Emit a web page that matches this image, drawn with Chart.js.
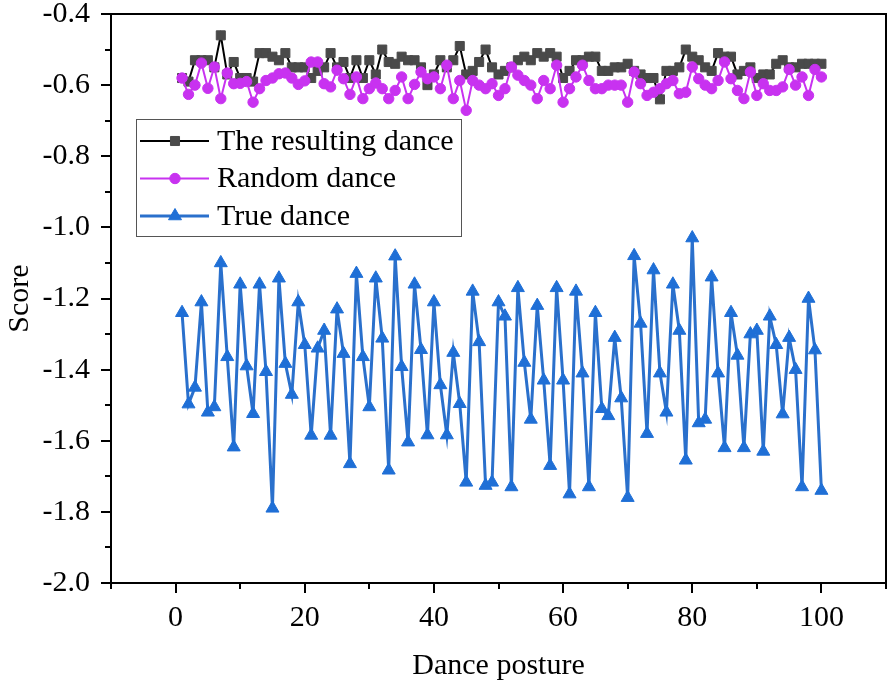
<!DOCTYPE html>
<html>
<head>
<meta charset="utf-8">
<title>Score by dance posture</title>
<script src="https://cdn.jsdelivr.net/npm/chart.js@4.4.1/dist/chart.umd.min.js"></script>
<style>
    html, body { margin: 0; padding: 0; background: #fff; }
    #wrap { width: 888px; height: 691px; position: relative; }
</style>
</head>
<body>
<div id="wrap"><canvas id="scoreChart" width="888" height="691"></canvas></div>
<script>
    // Dance posture index (x axis)
    const posture = [
        1, 2, 3, 4, 5, 6, 7, 8, 9, 10, 11, 12, 13, 14, 15, 16, 17, 18, 19, 20,
        21, 22, 23, 24, 25, 26, 27, 28, 29, 30, 31, 32, 33, 34, 35, 36, 37, 38, 39, 40,
        41, 42, 43, 44, 45, 46, 47, 48, 49, 50, 51, 52, 53, 54, 55, 56, 57, 58, 59, 60,
        61, 62, 63, 64, 65, 66, 67, 68, 69, 70, 71, 72, 73, 74, 75, 76, 77, 78, 79, 80,
        81, 82, 83, 84, 85, 86, 87, 88, 89, 90, 91, 92, 93, 94, 95, 96, 97, 98, 99, 100
    ];

    const resultingDance = [
        -0.58, -0.59, -0.53, -0.53, -0.53, -0.55, -0.46, -0.57, -0.535, -0.58,
        -0.58, -0.59, -0.51, -0.51, -0.52, -0.53, -0.51, -0.55, -0.55, -0.55,
        -0.58, -0.56, -0.55, -0.51, -0.55, -0.535, -0.58, -0.53, -0.58, -0.53,
        -0.57, -0.50, -0.535, -0.54, -0.52, -0.53, -0.53, -0.55, -0.60, -0.57,
        -0.53, -0.55, -0.53, -0.49, -0.57, -0.56, -0.535, -0.50, -0.55, -0.57,
        -0.56, -0.55, -0.53, -0.52, -0.53, -0.51, -0.52, -0.51, -0.52, -0.58,
        -0.56, -0.53, -0.53, -0.52, -0.52, -0.56, -0.56, -0.55, -0.55, -0.54,
        -0.56, -0.57, -0.58, -0.58, -0.64, -0.56, -0.56, -0.55, -0.50, -0.52,
        -0.53, -0.55, -0.56, -0.51, -0.52, -0.52, -0.57, -0.56, -0.55, -0.58,
        -0.57, -0.57, -0.54, -0.53, -0.55, -0.55, -0.54, -0.54, -0.54, -0.54
    ];

    const randomDance = [
        -0.58, -0.626, -0.60, -0.538, -0.609, -0.549, -0.638, -0.566, -0.596, -0.595,
        -0.59, -0.648, -0.61, -0.587, -0.58, -0.568, -0.566, -0.58, -0.598, -0.588,
        -0.535, -0.535, -0.596, -0.605, -0.558, -0.582, -0.626, -0.577, -0.638, -0.61,
        -0.594, -0.61, -0.638, -0.615, -0.577, -0.638, -0.598, -0.563, -0.582, -0.577,
        -0.61, -0.544, -0.638, -0.587, -0.671, -0.587, -0.60, -0.61, -0.596, -0.629,
        -0.61, -0.549, -0.572, -0.587, -0.60, -0.638, -0.587, -0.61, -0.544, -0.648,
        -0.61, -0.577, -0.544, -0.587, -0.61, -0.61, -0.60, -0.60, -0.60, -0.648,
        -0.563, -0.596, -0.629, -0.62, -0.61, -0.596, -0.587, -0.624, -0.62, -0.549,
        -0.582, -0.60, -0.61, -0.587, -0.535, -0.582, -0.615, -0.638, -0.563, -0.629,
        -0.596, -0.615, -0.615, -0.605, -0.556, -0.60, -0.577, -0.629, -0.556, -0.577
    ];

    const trueDance = [
        -1.24, -1.497, -1.45, -1.21, -1.52, -1.505, -1.10, -1.364, -1.618, -1.16,
        -1.39, -1.524, -1.16, -1.406, -1.79, -1.143, -1.383, -1.47, -1.21, -1.33,
        -1.585, -1.34, -1.29, -1.585, -1.23, -1.355, -1.665, -1.13, -1.364, -1.505,
        -1.143, -1.312, -1.683, -1.081, -1.392, -1.604, -1.16, -1.344, -1.584, -1.21,
        -1.443, -1.584, -1.352, -1.496, -1.717, -1.18, -1.322, -1.726, -1.717, -1.21,
        -1.25, -1.73, -1.17, -1.38, -1.54, -1.22, -1.43, -1.67, -1.17, -1.43,
        -1.75, -1.18, -1.41, -1.73, -1.24, -1.51, -1.53, -1.31, -1.48, -1.76,
        -1.08, -1.27, -1.58, -1.12, -1.41, -1.52, -1.16, -1.29, -1.655, -1.03,
        -1.55, -1.54, -1.14, -1.41, -1.62, -1.24, -1.36, -1.62, -1.30, -1.29,
        -1.63, -1.25, -1.33, -1.525, -1.31, -1.40, -1.73, -1.20, -1.345, -1.74
    ];

    const seriesNames = ['The resulting dance', 'Random dance', 'True dance'];
    const xTickLabels = [0, 20, 40, 60, 80, 100];

    const FONT = "'Liberation Serif', 'Times New Roman', serif";
    const FONT_SIZE = 30;

    // frame, tick marks (major + minor) and the boxed legend
    const framePlugin = {
        id: 'frame',
        afterDraw(chart) {
            const { ctx, chartArea: a, scales: { x, y } } = chart;
            ctx.save();
            ctx.strokeStyle = '#000';
            ctx.lineWidth = 2;
            ctx.strokeRect(a.left, a.top, a.right - a.left, a.bottom - a.top);

            ctx.beginPath();
            for (let v = -10; v <= 110; v += 10) {
                const px = Math.round(x.getPixelForValue(v));
                const len = v % 20 === 0 ? 10 : 6;
                ctx.moveTo(px, a.bottom);
                ctx.lineTo(px, a.bottom + len);
            }
            for (let k = -20; k <= -4; k++) {
                const py = Math.round(y.getPixelForValue(k / 10));
                const len = k % 2 === 0 ? 10 : 6;
                ctx.moveTo(a.left, py);
                ctx.lineTo(a.left - len, py);
            }
            ctx.stroke();

            // legend box
            const lx = 136, ly = 119, lw = 325, lh = 117;
            ctx.lineWidth = 1;
            ctx.strokeStyle = '#555';
            ctx.fillStyle = '#fff';
            ctx.fillRect(lx, ly, lw, lh);
            ctx.strokeRect(lx + 0.5, ly + 0.5, lw, lh);

            ctx.font = FONT_SIZE + 'px ' + FONT;
            ctx.textBaseline = 'middle';
            ctx.textAlign = 'left';
            chart.data.datasets.forEach((ds, i) => {
                const cy = 141 + i * 37.5;
                ctx.strokeStyle = ds.borderColor;
                ctx.lineWidth = ds.borderWidth;
                ctx.beginPath();
                ctx.moveTo(140, cy);
                ctx.lineTo(209, cy);
                ctx.stroke();
                ctx.fillStyle = ds.pointBackgroundColor;
                ctx.strokeStyle = ds.pointBorderColor;
                ctx.lineWidth = 1;
                Chart.helpers.drawPoint(ctx, {
                    pointStyle: ds.pointStyle,
                    radius: ds.pointRadius,
                    borderWidth: 1,
                    rotation: 0
                }, 175, cy);
                ctx.fillStyle = '#000';
                ctx.fillText(ds.label, 217, cy + 1);
            });
            ctx.restore();
        }
    };

    function toPoints(values) {
        return posture.map((p, i) => ({ x: p, y: values[i] }));
    }

    const ctx = document.getElementById('scoreChart').getContext('2d');

    new Chart(ctx, {
        type: 'line',
        data: {
            datasets: [
                {
                    label: seriesNames[0],
                    data: toPoints(resultingDance),
                    borderColor: '#000000',
                    borderWidth: 2,
                    pointStyle: 'rect',
                    pointRadius: 6.4,
                    pointBackgroundColor: '#4a4a4a',
                    pointBorderColor: '#4a4a4a',
                    pointBorderWidth: 1,
                    order: 1
                },
                {
                    label: seriesNames[1],
                    data: toPoints(randomDance),
                    borderColor: '#c832f0',
                    borderWidth: 2,
                    pointStyle: 'circle',
                    pointRadius: 5.2,
                    pointBackgroundColor: '#c832f0',
                    pointBorderColor: '#c832f0',
                    pointBorderWidth: 1,
                    order: 0
                },
                {
                    label: seriesNames[2],
                    data: toPoints(trueDance),
                    borderColor: '#2a70cc',
                    borderWidth: 3,
                    pointStyle: 'triangle',
                    pointRadius: 7.5,
                    pointBackgroundColor: '#1f6fd6',
                    pointBorderColor: '#1f6fd6',
                    pointBorderWidth: 1,
                    order: 2
                }
            ]
        },
        options: {
            responsive: false,
            animation: false,
            devicePixelRatio: 1,
            layout: { autoPadding: false, padding: { top: 14, right: 2, left: 0, bottom: 0 } },
            plugins: {
                legend: { display: false },
                tooltip: { enabled: false }
            },
            elements: { line: { tension: 0 } },
            scales: {
                x: {
                    type: 'linear',
                    min: -10,
                    max: 110,
                    afterFit: scale => {
                        scale.height = 108;
                        scale.paddingLeft = 0;
                        scale.paddingRight = 0;
                    },
                    grid: { display: false },
                    border: { display: false },
                    ticks: {
                        stepSize: 10,
                        autoSkip: false,
                        maxRotation: 0,
                        padding: 9,
                        color: '#000',
                        font: { family: FONT, size: FONT_SIZE },
                        callback: v => xTickLabels.includes(v) ? String(v) : ''
                    },
                    title: {
                        display: true,
                        text: 'Dance posture',
                        color: '#000',
                        font: { family: FONT, size: FONT_SIZE },
                        padding: { top: 0, bottom: 7 }
                    }
                },
                y: {
                    min: -2.0,
                    max: -0.4,
                    afterFit: scale => {
                        scale.width = 111;
                        scale.paddingTop = 0;
                        scale.paddingBottom = 0;
                    },
                    grid: { display: false },
                    border: { display: false },
                    ticks: {
                        stepSize: 0.2,
                        padding: 13,
                        color: '#000',
                        font: { family: FONT, size: FONT_SIZE },
                        callback: v => (Math.round(v * 10) / 10).toFixed(1)
                    },
                    title: {
                        display: true,
                        text: 'Score',
                        color: '#000',
                        font: { family: FONT, size: FONT_SIZE },
                        padding: { top: 2, bottom: 0 }
                    }
                }
            }
        },
        plugins: [framePlugin]
    });
</script>
</body>
</html>
